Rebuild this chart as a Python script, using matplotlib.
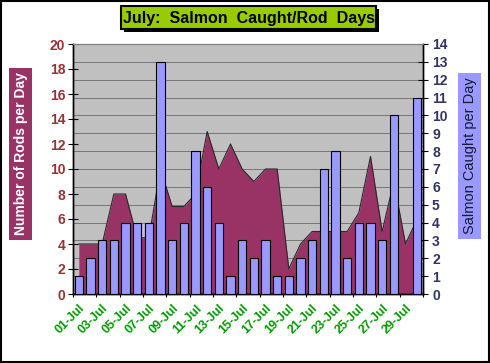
import numpy as np
import matplotlib
matplotlib.use("Agg")
import matplotlib.pyplot as plt
from matplotlib.patches import Rectangle

plt.rcParams['font.family'] = ['Liberation Sans', 'DejaVu Sans']

# values, one per day 01-Jul .. 30-Jul
days = [f"{d:02d}-Jul" for d in range(1, 31)]
rods = [4, 4, 4, 8, 8, 4.5, 4.5, 10, 7, 7, 8, 13, 10, 12, 10, 9, 10, 10,
        2, 4, 5, 5, 5, 5, 6.5, 11, 5, 9, 4, 6]
salmon = [1, 2, 3, 3, 4, 4, 4, 13, 3, 4, 8, 6, 4, 1, 3, 2, 3, 1,
          1, 2, 3, 7, 8, 2, 4, 4, 3, 10, 0, 11]
rod_ticks = [0, 2, 4, 6, 8, 10, 12, 14, 16, 18, 20]
salmon_ticks = [0, 1, 2, 3, 4, 5, 6, 7, 8, 9, 10, 11, 12, 13, 14]

W, H = 490, 363


def fx(px):
    return px / W


def fy(py):
    return 1 - py / H


fig = plt.figure(figsize=(W / 100, H / 100), dpi=100)
ax = fig.add_axes([fx(73), fy(294), fx(350), 250 / H])
ax2 = ax.twinx()

x = np.arange(len(days))

# grey plot area with grid lines that follow the right axis
ax.set_facecolor('#c0c0c0')
for k in salmon_ticks[1:-1]:
    ax.axhline(k * rod_ticks[-1] / salmon_ticks[-1], color='#767676', lw=0.7, zorder=1)

# rods per day as area (left axis)
ax.fill_between(x, rods, color='#993366', lw=0, zorder=2)
ax.plot(x, rods, color='#2a2a2a', lw=0.8, zorder=3)
ax.text(11.8, 3.1, 'x', color='#333399', fontsize=7, ha='center', va='center', zorder=6)

# salmon caught as columns (right axis)
ax2.bar(x, salmon, width=0.71, color='#9999ff', edgecolor='black', lw=0.8, zorder=3)
ax2.patch.set_visible(False)

ax.set_xlim(-0.5, len(days) - 0.5)
ax.set_ylim(0, rod_ticks[-1])
ax2.set_ylim(0, salmon_ticks[-1])

ax.set_yticks(rod_ticks, labels=[str(v) for v in rod_ticks],
              fontweight='bold', fontsize=10, color='#993333')
ax.tick_params(axis='y', direction='inout', length=7, width=0.8, pad=2)
ax2.set_yticks(salmon_ticks, labels=[str(v) for v in salmon_ticks],
               fontweight='bold', fontsize=10, color='#333366')
ax2.tick_params(axis='y', direction='inout', length=7, width=0.8, pad=3)

ax.set_xticks(np.arange(-0.5, len(days), 2))
ax.set_xticks(x[::2], labels=days[::2], minor=True, rotation=45, ha='right',
              rotation_mode='anchor', fontweight='bold', fontsize=9, color='#009900')
ax.tick_params(axis='x', which='major', direction='inout', length=5, width=0.8,
               labelbottom=False)
ax.tick_params(axis='x', which='minor', length=0, pad=6)

for a in (ax, ax2):
    a.spines['top'].set_color('#808080')
    for s in ('left', 'right', 'bottom'):
        a.spines[s].set_color('black')
        a.spines[s].set_linewidth(1)

# axis titles in coloured boxes
fig.text(fx(20.5), fy(154), 'Number of Rods per Day', rotation=90, ha='center', va='center',
         color='white', fontweight='bold', fontsize=10,
         bbox=dict(boxstyle='square,pad=0.3', fc='#993366', ec='none'))
fig.text(fx(469.5), fy(156), 'Salmon Caught per Day', rotation=90, ha='center', va='center',
         color='#1a1a33', fontsize=10.5,
         bbox=dict(boxstyle='square,pad=0.3', fc='#9999ff', ec='none'))

# title box with shadow
fig.patches.append(Rectangle((fx(124), fy(32)), fx(255), 23 / H, transform=fig.transFigure,
                             fc='black', ec='none'))
fig.patches.append(Rectangle((fx(121), fy(29)), fx(255), 23 / H, transform=fig.transFigure,
                             fc='#99cc00', ec='black', lw=1.5))
fig.text(fx(249), fy(18), 'July:  Salmon  Caught/Rod  Days', ha='center', va='center',
         fontweight='bold', fontsize=11.5)

# outer chart border
fig.patches.append(Rectangle((0.002, 0.003), 0.995, 0.993, transform=fig.transFigure,
                             fill=False, ec='black', lw=1.5))

fig.savefig('out.png', dpi=100)
